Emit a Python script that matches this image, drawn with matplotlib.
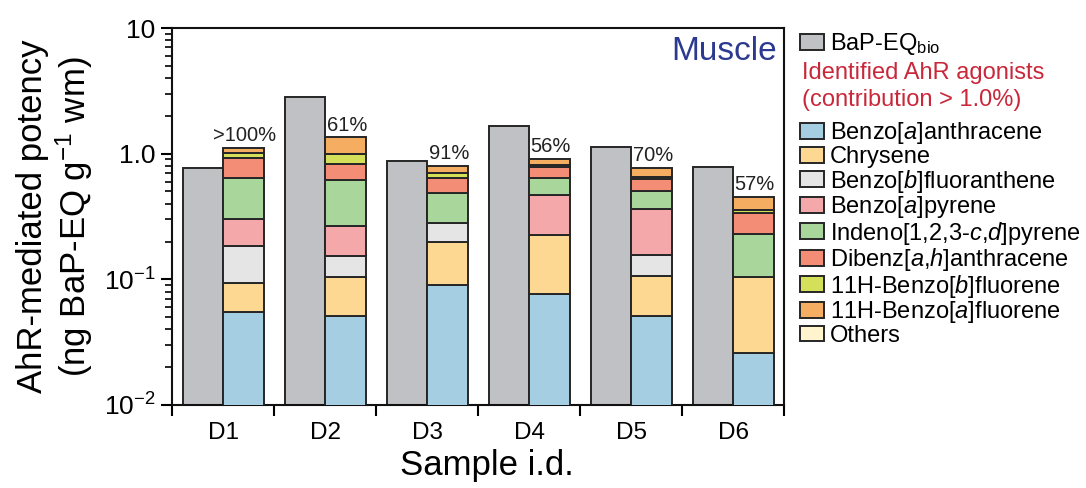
import matplotlib
matplotlib.use("Agg")
import matplotlib.pyplot as plt
import numpy as np
from matplotlib.patches import Patch

plt.rcParams['font.family'] = ['Liberation Sans', 'DejaVu Sans']
plt.rcParams['mathtext.fontset'] = 'custom'
plt.rcParams['mathtext.rm'] = 'Liberation Sans'
plt.rcParams['mathtext.it'] = 'Liberation Sans:italic'
plt.rcParams['mathtext.bf'] = 'Liberation Sans:bold'

# ---- data (ng BaP-EQ g^-1 wm) ----
samples = ["D1", "D2", "D3", "D4", "D5", "D6"]
bapeq_bio = [0.77, 2.81, 0.88, 1.66, 1.12, 0.79]

benzo_a_anthracene = [0.055, 0.051, 0.090, 0.076, 0.051, 0.026]
chrysene = [0.039, 0.054, 0.109, 0.150, 0.055, 0.078]
benzo_b_fluoranthene = [0.091, 0.049, 0.080, 0.0, 0.051, 0.0]
benzo_a_pyrene = [0.115, 0.112, 0.0, 0.240, 0.207, 0.0]
indeno_pyrene = [0.344, 0.351, 0.205, 0.179, 0.141, 0.124]
dibenz_anthracene = [0.275, 0.218, 0.162, 0.135, 0.118, 0.109]
benzo_b_fluorene = [0.088, 0.150, 0.056, 0.030, 0.032, 0.022]
benzo_a_fluorene = [0.109, 0.360, 0.096, 0.093, 0.114, 0.093]
others = [0.0, 0.0, 0.0, 0.0, 0.0, 0.0]

contribution_labels = [">100%", "61%", "91%", "56%", "70%", "57%"]

compound_names = [
    r"Benzo[$\mathit{a}$]anthracene",
    "Chrysene",
    r"Benzo[$\mathit{b}$]fluoranthene",
    r"Benzo[$\mathit{a}$]pyrene",
    r"Indeno[$\mathit{1}$,$\mathit{2}$,$\mathit{3\text{-}c}$,$\mathit{d}$]pyrene",
    r"Dibenz[$\mathit{a}$,$\mathit{h}$]anthracene",
    r"11H-Benzo[$\mathit{b}$]fluorene",
    r"11H-Benzo[$\mathit{a}$]fluorene",
    "Others",
]
compound_values = [benzo_a_anthracene, chrysene, benzo_b_fluoranthene,
                   benzo_a_pyrene, indeno_pyrene, dibenz_anthracene,
                   benzo_b_fluorene, benzo_a_fluorene, others]
compound_colors = ["#A6CEE3", "#FDD892", "#E5E5E5", "#F5A8AA", "#A9D69B",
                   "#F48D76", "#D4E05A", "#F5AD62", "#FFF4CE"]
bio_color = "#BFC1C4"
edge = "#262626"

fig = plt.figure(figsize=(10.86, 4.88), dpi=100)
ax = fig.add_axes([172 / 1086, 1 - 405 / 488, 612 / 1086, 377 / 488])

x = np.arange(len(samples)) + 0.5
w_bio = 0.39
w_stack = 0.40

ax.bar(x, bapeq_bio, width=-w_bio, align='edge', color=bio_color,
       edgecolor=edge, linewidth=1.4, zorder=2)

bottom = np.zeros(len(samples))
for vals, col in zip(compound_values, compound_colors):
    vals = np.asarray(vals)
    mask = vals > 0
    ax.bar(x[mask], vals[mask], bottom=bottom[mask], width=w_stack,
           align='edge', color=col, edgecolor=edge, linewidth=1.4, zorder=3)
    bottom = bottom + vals

for xi, top, lab in zip(x, bottom, contribution_labels):
    ax.annotate(lab, (xi + w_stack / 2, top), xytext=(1, 2),
                textcoords='offset points', ha='center', va='bottom',
                fontsize=14.5, color="#222222")

ax.set_yscale('log')
ax.set_ylim(0.01, 10)
ax.set_xlim(0, 6)
ax.set_yticks([0.01, 0.1, 1, 10])
ax.set_yticklabels([r"$10^{-2}$", r"$10^{-1}$", "1.0", "10"])
ax.tick_params(axis='y', which='major', length=8, width=1.5, labelsize=19,
               direction='out', pad=4)
ax.tick_params(axis='y', which='minor', length=5, width=1.2, direction='out')

ax.set_xticks(np.arange(0, 7))
ax.set_xticklabels([])
ax.set_xticks(x, minor=True)
ax.set_xticklabels(samples, minor=True)
ax.tick_params(axis='x', which='major', length=8, width=1.5, direction='out')
ax.tick_params(axis='x', which='minor', length=0, labelsize=17.5, pad=12)

for s in ax.spines.values():
    s.set_linewidth(1.5)
    s.set_color("#111111")

ax.set_xlabel("Sample i.d.", fontsize=25)
ax.xaxis.set_label_coords(0.515, -0.117)
ax.set_ylabel("AhR-mediated potency\n" + r"(ng BaP-EQ g$^{-1}$ wm)",
              fontsize=25, linespacing=1.15)
ax.yaxis.set_label_coords(-0.126, 0.5)

ax.text(0.988, 0.937, "Muscle", transform=ax.transAxes, ha='right',
        va='center', fontsize=24, color="#2B3990")

# legends
h_bio = [Patch(facecolor=bio_color, edgecolor=edge, linewidth=1.4)]
leg1 = fig.legend(h_bio, [r"BaP-EQ$_{\mathrm{bio}}$"], loc='upper left',
                  bbox_to_anchor=(800 / 1086, 1 - 31 / 488), frameon=False,
                  fontsize=17, borderpad=0, borderaxespad=0,
                  handlelength=1.0, handleheight=0.65, handletextpad=0.25)

fig.text(802 / 1086, 1 - 86.5 / 488,
         "Identified AhR agonists\n(contribution > 1.0%)",
         ha='left', va='center', fontsize=17, color="#C8283A",
         linespacing=1.25)

h_cmp = [Patch(facecolor=c, edgecolor=edge, linewidth=1.4)
         for c in compound_colors]
leg2 = fig.legend(h_cmp, compound_names, loc='upper left',
                  bbox_to_anchor=(800 / 1086, 1 - 120.5 / 488), frameon=False,
                  fontsize=17, borderpad=0, borderaxespad=0,
                  handlelength=1.0, handleheight=0.65, handletextpad=0.25,
                  labelspacing=-0.02)

fig.savefig("out.png", dpi=100)
